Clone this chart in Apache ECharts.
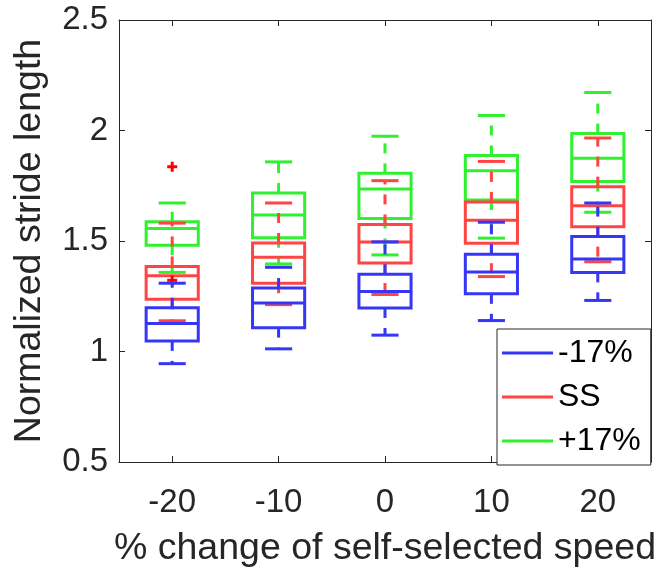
<!DOCTYPE html>
<html>
<head>
<meta charset="utf-8">
<script src="https://cdn.jsdelivr.net/npm/echarts@6/dist/echarts.min.js"></script>
<style>
  html, body { margin: 0; padding: 0; background: #fff; }
  #chart { width: 662px; height: 573px; }
</style>
</head>
<body>
<div id="chart"></div>
<script>
// x positions (% change of self-selected speed)
var speeds = [-20, -10, 0, 10, 20];
var xTicks = [-20, -10, 0, 10, 20];

// -17% (blue)
var blueLow = [0.945, 1.012, 1.074, 1.140, 1.231];
var blueQ1  = [1.048, 1.108, 1.197, 1.261, 1.358];
var blueMed = [1.127, 1.220, 1.272, 1.360, 1.418];
var blueQ3  = [1.198, 1.287, 1.349, 1.440, 1.520];
var blueHigh = [1.309, 1.381, 1.496, 1.585, 1.672];

// SS (red)
var redLow = [1.139, 1.212, 1.258, 1.339, 1.406];
var redQ1  = [1.236, 1.309, 1.400, 1.490, 1.565];
var redMed = [1.343, 1.426, 1.496, 1.594, 1.660];
var redQ3  = [1.385, 1.491, 1.575, 1.677, 1.746];
var redHigh = [1.581, 1.672, 1.773, 1.860, 1.966];
var redOutliers = [[-20, 1.836], [-20, 1.322]];

// +17% (green)
var greenLow = [1.358, 1.396, 1.437, 1.513, 1.630];
var greenQ1  = [1.481, 1.515, 1.602, 1.685, 1.769];
var greenMed = [1.556, 1.618, 1.735, 1.818, 1.874];
var greenQ3  = [1.587, 1.717, 1.806, 1.887, 1.986];
var greenHigh = [1.672, 1.858, 1.974, 2.068, 2.172];

var yTicks = [0.5, 1, 1.5, 2, 2.5];

var BLUE = '#3636f6', RED = '#ff4444', GREEN = '#30f030';
var FONT = "'Liberation Sans', Arial, sans-serif";
var boxWidth = 4.9;

function rows(lo, q1, md, q3, hi) {
	var out = [];
	for (var i = 0; i < speeds.length; i++) {
		out.push([speeds[i], lo[i], q1[i], md[i], q3[i], hi[i]]);
	}
	return out;
}

function renderBox(params, api) {
	var x = api.value(0);
	var lo = api.coord([x, api.value(1)]);
	var q1 = api.coord([x, api.value(2)]);
	var md = api.coord([x, api.value(3)]);
	var q3 = api.coord([x, api.value(4)]);
	var hi = api.coord([x, api.value(5)]);
	var cx = lo[0];
	var half = api.size([boxWidth, 0])[0] / 2;
	var cap = half * 0.52;
	var color = api.visual('color');
	var solid = { stroke: color, lineWidth: 3, fill: null };
	var dashed = { stroke: color, lineWidth: 3, lineDash: [10, 10] };
	function seg(x1, y1, x2, y2, st) {
		return { type: 'line', shape: { x1: x1, y1: y1, x2: x2, y2: y2 }, style: st };
	}
	return {
		type: 'group',
		children: [
			seg(cx, q3[1], cx, hi[1], dashed),
			seg(cx, q1[1], cx, lo[1], dashed),
			seg(cx - cap, hi[1], cx + cap, hi[1], solid),
			seg(cx - cap, lo[1], cx + cap, lo[1], solid),
			{ type: 'polygon', shape: { points: [[cx - half, q3[1]], [cx + half, q3[1]], [cx + half, q1[1]], [cx - half, q1[1]]] }, style: solid },
			seg(cx - half, md[1], cx + half, md[1], solid)
		]
	};
}

function renderPlus(params, api) {
	var p = api.coord([api.value(0), api.value(1)]);
	var st = { stroke: api.visual('color'), lineWidth: 3 };
	return {
		type: 'group',
		children: [
			{ type: 'line', shape: { x1: p[0] - 5, y1: p[1], x2: p[0] + 5, y2: p[1] }, style: st },
			{ type: 'line', shape: { x1: p[0], y1: p[1] - 5, x2: p[0], y2: p[1] + 5 }, style: st }
		]
	};
}

var chart = echarts.init(document.getElementById('chart'));
var axisColor = '#262626';
var option = {
	backgroundColor: '#fff',
	animation: false,
	grid: { left: 119, right: 11, top: 20, bottom: 109 },
	legend: {
		data: ['-17%', 'SS', '+17%'],
		orient: 'vertical',
		left: 497, top: 329,
		padding: [2, 10, 2, 5],
		itemGap: 0,
		itemWidth: 51, itemHeight: 3,
		itemTextGap: 5,
		icon: 'rect',
		backgroundColor: '#fff',
		borderColor: axisColor, borderWidth: 1, borderRadius: 0,
		textStyle: { fontFamily: FONT, fontSize: 32, lineHeight: 44, color: '#000' }
	},
	xAxis: [{
		type: 'value', min: -25, max: 25,
		name: '% change of self-selected speed',
		nameLocation: 'middle', nameGap: 68,
		nameTextStyle: { fontFamily: FONT, fontSize: 37.5, color: axisColor },
		axisLine: { onZero: false, lineStyle: { color: axisColor, width: 1 } },
		axisTick: { inside: true, length: 6, customValues: xTicks, lineStyle: { color: axisColor } },
		axisLabel: { customValues: xTicks, margin: 24, fontFamily: FONT, fontSize: 33, color: axisColor },
		splitLine: { show: false }
	}, {
		type: 'value', min: -25, max: 25, position: 'top',
		axisLine: { onZero: false, lineStyle: { color: axisColor, width: 1 } },
		axisTick: { inside: true, length: 6, customValues: xTicks, lineStyle: { color: axisColor } },
		axisLabel: { show: false },
		splitLine: { show: false }
	}],
	yAxis: [{
		type: 'value', min: 0.5, max: 2.5, interval: 0.5,
		name: 'Normalized stride length',
		nameLocation: 'middle', nameGap: 70,
		nameTextStyle: { fontFamily: FONT, fontSize: 37.5, color: axisColor },
		axisLine: { show: true, onZero: false, lineStyle: { color: axisColor, width: 1 } },
		axisTick: { show: true, inside: true, length: 6, lineStyle: { color: axisColor } },
		axisLabel: { margin: 11, fontFamily: FONT, fontSize: 33, color: axisColor },
		splitLine: { show: false }
	}, {
		type: 'value', min: 0.5, max: 2.5, interval: 0.5, position: 'right',
		axisLine: { show: true, onZero: false, lineStyle: { color: axisColor, width: 1 } },
		axisTick: { show: true, inside: true, length: 6, lineStyle: { color: axisColor } },
		axisLabel: { show: false },
		splitLine: { show: false }
	}],
	series: [{
		name: '+17%', type: 'custom', renderItem: renderBox,
		itemStyle: { color: GREEN },
		encode: { x: 0, y: [1, 2, 3, 4, 5] },
		data: rows(greenLow, greenQ1, greenMed, greenQ3, greenHigh)
	}, {
		name: 'SS', type: 'custom', renderItem: renderBox,
		itemStyle: { color: RED },
		encode: { x: 0, y: [1, 2, 3, 4, 5] },
		data: rows(redLow, redQ1, redMed, redQ3, redHigh)
	}, {
		name: 'SS outliers', type: 'custom', renderItem: renderPlus,
		itemStyle: { color: '#ff0000' },
		encode: { x: 0, y: 1 },
		data: redOutliers
	}, {
		name: '-17%', type: 'custom', renderItem: renderBox,
		itemStyle: { color: BLUE },
		encode: { x: 0, y: [1, 2, 3, 4, 5] },
		data: rows(blueLow, blueQ1, blueMed, blueQ3, blueHigh)
	}]
};
chart.setOption(option);
</script>
</body>
</html>
